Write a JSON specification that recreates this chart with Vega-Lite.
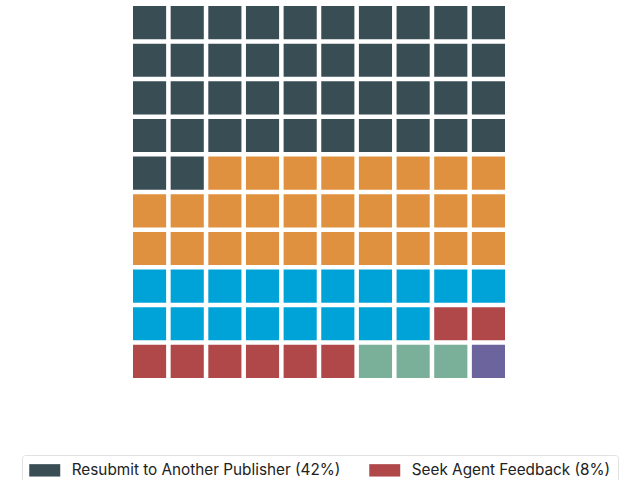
{
  "$schema": "https://vega.github.io/schema/vega-lite/v6.json",
  "autosize": {"type": "none"},
  "width": 372,
  "height": 372,
  "padding": {"left": 133, "top": 6, "right": 135, "bottom": 102},
  "background": "white",
  "config": {
    "view": {"stroke": "transparent"},
    "font": "Inter"
  },
  "data": {
    "values": [
      {"row": 1, "col": 1, "cat": "Resubmit to Another Publisher (42%)"},
      {"row": 1, "col": 2, "cat": "Resubmit to Another Publisher (42%)"},
      {"row": 1, "col": 3, "cat": "Resubmit to Another Publisher (42%)"},
      {"row": 1, "col": 4, "cat": "Resubmit to Another Publisher (42%)"},
      {"row": 1, "col": 5, "cat": "Resubmit to Another Publisher (42%)"},
      {"row": 1, "col": 6, "cat": "Resubmit to Another Publisher (42%)"},
      {"row": 1, "col": 7, "cat": "Resubmit to Another Publisher (42%)"},
      {"row": 1, "col": 8, "cat": "Resubmit to Another Publisher (42%)"},
      {"row": 1, "col": 9, "cat": "Resubmit to Another Publisher (42%)"},
      {"row": 1, "col": 10, "cat": "Resubmit to Another Publisher (42%)"},
      {"row": 2, "col": 1, "cat": "Resubmit to Another Publisher (42%)"},
      {"row": 2, "col": 2, "cat": "Resubmit to Another Publisher (42%)"},
      {"row": 2, "col": 3, "cat": "Resubmit to Another Publisher (42%)"},
      {"row": 2, "col": 4, "cat": "Resubmit to Another Publisher (42%)"},
      {"row": 2, "col": 5, "cat": "Resubmit to Another Publisher (42%)"},
      {"row": 2, "col": 6, "cat": "Resubmit to Another Publisher (42%)"},
      {"row": 2, "col": 7, "cat": "Resubmit to Another Publisher (42%)"},
      {"row": 2, "col": 8, "cat": "Resubmit to Another Publisher (42%)"},
      {"row": 2, "col": 9, "cat": "Resubmit to Another Publisher (42%)"},
      {"row": 2, "col": 10, "cat": "Resubmit to Another Publisher (42%)"},
      {"row": 3, "col": 1, "cat": "Resubmit to Another Publisher (42%)"},
      {"row": 3, "col": 2, "cat": "Resubmit to Another Publisher (42%)"},
      {"row": 3, "col": 3, "cat": "Resubmit to Another Publisher (42%)"},
      {"row": 3, "col": 4, "cat": "Resubmit to Another Publisher (42%)"},
      {"row": 3, "col": 5, "cat": "Resubmit to Another Publisher (42%)"},
      {"row": 3, "col": 6, "cat": "Resubmit to Another Publisher (42%)"},
      {"row": 3, "col": 7, "cat": "Resubmit to Another Publisher (42%)"},
      {"row": 3, "col": 8, "cat": "Resubmit to Another Publisher (42%)"},
      {"row": 3, "col": 9, "cat": "Resubmit to Another Publisher (42%)"},
      {"row": 3, "col": 10, "cat": "Resubmit to Another Publisher (42%)"},
      {"row": 4, "col": 1, "cat": "Resubmit to Another Publisher (42%)"},
      {"row": 4, "col": 2, "cat": "Resubmit to Another Publisher (42%)"},
      {"row": 4, "col": 3, "cat": "Resubmit to Another Publisher (42%)"},
      {"row": 4, "col": 4, "cat": "Resubmit to Another Publisher (42%)"},
      {"row": 4, "col": 5, "cat": "Resubmit to Another Publisher (42%)"},
      {"row": 4, "col": 6, "cat": "Resubmit to Another Publisher (42%)"},
      {"row": 4, "col": 7, "cat": "Resubmit to Another Publisher (42%)"},
      {"row": 4, "col": 8, "cat": "Resubmit to Another Publisher (42%)"},
      {"row": 4, "col": 9, "cat": "Resubmit to Another Publisher (42%)"},
      {"row": 4, "col": 10, "cat": "Resubmit to Another Publisher (42%)"},
      {"row": 5, "col": 1, "cat": "Resubmit to Another Publisher (42%)"},
      {"row": 5, "col": 2, "cat": "Resubmit to Another Publisher (42%)"},
      {"row": 5, "col": 3, "cat": "Self-Publish (28%)"},
      {"row": 5, "col": 4, "cat": "Self-Publish (28%)"},
      {"row": 5, "col": 5, "cat": "Self-Publish (28%)"},
      {"row": 5, "col": 6, "cat": "Self-Publish (28%)"},
      {"row": 5, "col": 7, "cat": "Self-Publish (28%)"},
      {"row": 5, "col": 8, "cat": "Self-Publish (28%)"},
      {"row": 5, "col": 9, "cat": "Self-Publish (28%)"},
      {"row": 5, "col": 10, "cat": "Self-Publish (28%)"},
      {"row": 6, "col": 1, "cat": "Self-Publish (28%)"},
      {"row": 6, "col": 2, "cat": "Self-Publish (28%)"},
      {"row": 6, "col": 3, "cat": "Self-Publish (28%)"},
      {"row": 6, "col": 4, "cat": "Self-Publish (28%)"},
      {"row": 6, "col": 5, "cat": "Self-Publish (28%)"},
      {"row": 6, "col": 6, "cat": "Self-Publish (28%)"},
      {"row": 6, "col": 7, "cat": "Self-Publish (28%)"},
      {"row": 6, "col": 8, "cat": "Self-Publish (28%)"},
      {"row": 6, "col": 9, "cat": "Self-Publish (28%)"},
      {"row": 6, "col": 10, "cat": "Self-Publish (28%)"},
      {"row": 7, "col": 1, "cat": "Self-Publish (28%)"},
      {"row": 7, "col": 2, "cat": "Self-Publish (28%)"},
      {"row": 7, "col": 3, "cat": "Self-Publish (28%)"},
      {"row": 7, "col": 4, "cat": "Self-Publish (28%)"},
      {"row": 7, "col": 5, "cat": "Self-Publish (28%)"},
      {"row": 7, "col": 6, "cat": "Self-Publish (28%)"},
      {"row": 7, "col": 7, "cat": "Self-Publish (28%)"},
      {"row": 7, "col": 8, "cat": "Self-Publish (28%)"},
      {"row": 7, "col": 9, "cat": "Self-Publish (28%)"},
      {"row": 7, "col": 10, "cat": "Self-Publish (28%)"},
      {"row": 8, "col": 1, "cat": "Revise and Resubmit (18%)"},
      {"row": 8, "col": 2, "cat": "Revise and Resubmit (18%)"},
      {"row": 8, "col": 3, "cat": "Revise and Resubmit (18%)"},
      {"row": 8, "col": 4, "cat": "Revise and Resubmit (18%)"},
      {"row": 8, "col": 5, "cat": "Revise and Resubmit (18%)"},
      {"row": 8, "col": 6, "cat": "Revise and Resubmit (18%)"},
      {"row": 8, "col": 7, "cat": "Revise and Resubmit (18%)"},
      {"row": 8, "col": 8, "cat": "Revise and Resubmit (18%)"},
      {"row": 8, "col": 9, "cat": "Revise and Resubmit (18%)"},
      {"row": 8, "col": 10, "cat": "Revise and Resubmit (18%)"},
      {"row": 9, "col": 1, "cat": "Revise and Resubmit (18%)"},
      {"row": 9, "col": 2, "cat": "Revise and Resubmit (18%)"},
      {"row": 9, "col": 3, "cat": "Revise and Resubmit (18%)"},
      {"row": 9, "col": 4, "cat": "Revise and Resubmit (18%)"},
      {"row": 9, "col": 5, "cat": "Revise and Resubmit (18%)"},
      {"row": 9, "col": 6, "cat": "Revise and Resubmit (18%)"},
      {"row": 9, "col": 7, "cat": "Revise and Resubmit (18%)"},
      {"row": 9, "col": 8, "cat": "Revise and Resubmit (18%)"},
      {"row": 9, "col": 9, "cat": "Seek Agent Feedback (8%)"},
      {"row": 9, "col": 10, "cat": "Seek Agent Feedback (8%)"},
      {"row": 10, "col": 1, "cat": "Seek Agent Feedback (8%)"},
      {"row": 10, "col": 2, "cat": "Seek Agent Feedback (8%)"},
      {"row": 10, "col": 3, "cat": "Seek Agent Feedback (8%)"},
      {"row": 10, "col": 4, "cat": "Seek Agent Feedback (8%)"},
      {"row": 10, "col": 5, "cat": "Seek Agent Feedback (8%)"},
      {"row": 10, "col": 6, "cat": "Seek Agent Feedback (8%)"},
      {"row": 10, "col": 7, "cat": "Abandon Project (3%)"},
      {"row": 10, "col": 8, "cat": "Abandon Project (3%)"},
      {"row": 10, "col": 9, "cat": "Abandon Project (3%)"},
      {"row": 10, "col": 10, "cat": "Other (1%)"}
    ]
  },
  "mark": {"type": "rect"},
  "encoding": {
    "x": {
      "field": "col",
      "type": "ordinal",
      "axis": null,
      "scale": {"paddingInner": 0.12, "paddingOuter": 0}
    },
    "y": {
      "field": "row",
      "type": "ordinal",
      "axis": null,
      "scale": {"paddingInner": 0.12, "paddingOuter": 0}
    },
    "color": {
      "field": "cat",
      "type": "nominal",
      "scale": {
        "domain": [
          "Resubmit to Another Publisher (42%)",
          "Self-Publish (28%)",
          "Revise and Resubmit (18%)",
          "Seek Agent Feedback (8%)",
          "Abandon Project (3%)",
          "Other (1%)"
        ],
        "range": ["#394d55", "#e0913f", "#00a3d8", "#b0484a", "#7aaf99", "#6b649d"]
      },
      "legend": {
        "title": null,
        "orient": "none",
        "legendX": -111,
        "legendY": 449,
        "direction": "vertical",
        "columns": 2,
        "columnPadding": 28,
        "rowPadding": 12,
        "padding": 7,
        "cornerRadius": 3,
        "strokeColor": "#e2e2e2",
        "fillColor": "white",
        "symbolType": "M-2,-0.8H2V0.8H-2Z",
        "symbolSize": 240,
        "symbolOffset": 7.75,
        "symbolStrokeWidth": 0,
        "symbolOpacity": 1,
        "labelOffset": 19,
        "labelFont": "Inter",
        "labelFontSize": 15.3,
        "labelColor": "#222222",
        "labelLimit": 400
      }
    }
  }
}
